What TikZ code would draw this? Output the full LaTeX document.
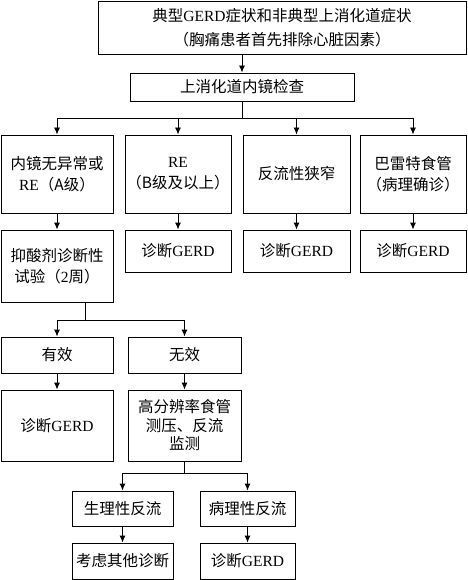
\documentclass[tikz,border=0pt]{standalone}
\usepackage{fontspec}
\setmainfont{Liberation Serif}
\newfontfamily\cjk{Noto Sans CJK SC}
\newcommand{\zh}[1]{{\cjk #1}}
\usetikzlibrary{arrows.meta}
\tikzset{
  caja/.style={draw, line width=0.9pt, align=center, inner sep=1pt, font=\fontsize{15.5}{21}\selectfont},
  flecha/.style={-{Latex[length=7pt,width=6pt]}, line width=0.9pt},
  linea/.style={line width=0.9pt},
}
\begin{document}
\begin{tikzpicture}[x=1pt,y=-1pt]
  \useasboundingbox (0,0) rectangle (467,580);
  % primer nivel
  \node[caja, minimum width=368pt, minimum height=53pt, font=\fontsize{15.5}{24}\selectfont] (sintomas) at (282,27.5)
    {\zh{典型}GERD\zh{症状和非典型上消化道症状}\\\zh{（胸痛患者首先排除心脏因素）}};
  \node[caja, minimum width=224pt, minimum height=28pt] (endoscopia) at (242,87) {\zh{上消化道内镜检查}};
  % resultados de la endoscopia
  \node[caja, minimum width=112pt, minimum height=78pt] (normal) at (57,174) {\zh{内镜无异常或}\\RE\zh{（A级）}};
  \node[caja, minimum width=106pt, minimum height=78pt] (reB) at (178,174) {RE\\\zh{（B级及以上）}};
  \node[caja, minimum width=107pt, minimum height=78pt] (estenosis) at (296.5,174) {\zh{反流性狭窄}};
  \node[caja, minimum width=106pt, minimum height=78pt] (barrett) at (413,174) {\zh{巴雷特食管}\\\zh{（病理确诊）}};
  \node[caja, minimum width=112pt, minimum height=72pt] (prueba) at (57,266) {\zh{抑酸剂诊断性}\\\zh{试验（}2\zh{周）}};
  \node[caja, minimum width=106pt, minimum height=42pt] (diagB) at (178,251) {\zh{诊断}GERD};
  \node[caja, minimum width=107pt, minimum height=42pt] (diagC) at (296.5,251) {\zh{诊断}GERD};
  \node[caja, minimum width=106pt, minimum height=42pt] (diagD) at (413,251) {\zh{诊断}GERD};
  % prueba terapeutica
  \node[caja, minimum width=112pt, minimum height=36pt] (eficaz) at (57,355) {\zh{有效}};
  \node[caja, minimum width=113pt, minimum height=36pt] (ineficaz) at (184.5,355) {\zh{无效}};
  \node[caja, minimum width=112pt, minimum height=71pt] (diagE) at (57,425.5) {\zh{诊断}GERD};
  \node[caja, minimum width=113pt, minimum height=71pt, font=\fontsize{15.5}{18.5}\selectfont] (monitoreo) at (184.5,425.5)
    {\zh{高分辨率食管}\\\zh{测压、反流}\\\zh{监测}};
  % monitoreo
  \node[caja, minimum width=101pt, minimum height=35pt] (fisiol) at (122.5,508.5) {\zh{生理性反流}};
  \node[caja, minimum width=95pt, minimum height=35pt] (patol) at (247.5,508.5) {\zh{病理性反流}};
  \node[caja, minimum width=101pt, minimum height=36pt] (otros) at (122.5,561) {\zh{考虑其他诊断}};
  \node[caja, minimum width=95pt, minimum height=36pt] (diagF) at (247.5,561) {\zh{诊断}GERD};

  % conectores
  \draw[flecha] (sintomas.south -| endoscopia.north) -- (endoscopia.north);
  \draw[linea] (endoscopia.south) -- ++(0,17) coordinate (r1);
  \draw[linea] (r1 -| normal.north) -- (r1 -| barrett.north);
  \foreach \n in {normal,reB,estenosis,barrett}
    \draw[flecha] (r1 -| \n.north) -- (\n.north);
  \foreach \a/\b in {normal/prueba,reB/diagB,estenosis/diagC,barrett/diagD}
    \draw[flecha] (\a) -- (\b);
  \draw[linea] ([xshift=28pt]prueba.south) -- ++(0,18) coordinate (r2);
  \draw[linea] (r2 -| eficaz.north) -- (r2 -| ineficaz.north);
  \foreach \n in {eficaz,ineficaz}
    \draw[flecha] (r2 -| \n.north) -- (\n.north);
  \draw[flecha] (eficaz) -- (diagE);
  \draw[flecha] (ineficaz) -- (monitoreo);
  \draw[linea] (monitoreo.south) -- ++(0,12) coordinate (r3);
  \draw[linea] (r3 -| fisiol.north) -- (r3 -| patol.north);
  \foreach \n in {fisiol,patol}
    \draw[flecha] (r3 -| \n.north) -- (\n.north);
  \draw[flecha] (fisiol) -- (otros);
  \draw[flecha] (patol) -- (diagF);
\end{tikzpicture}
\end{document}
